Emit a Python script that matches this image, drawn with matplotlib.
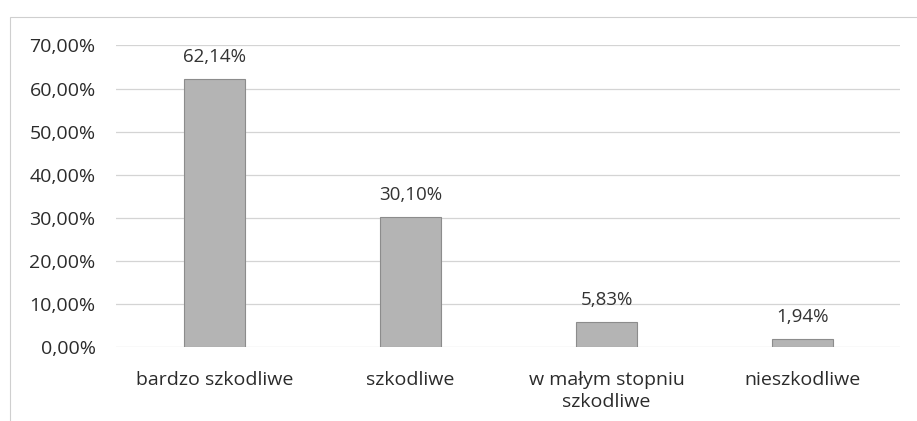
import matplotlib.pyplot as plt
from matplotlib.patches import Rectangle
from matplotlib.ticker import FuncFormatter

plt.rcParams.update({
    "font.family": ["Open Sans", "DejaVu Sans"],
    "font.size": 14,
})

# data
categories = ["bardzo szkodliwe", "szkodliwe", "w małym stopniu\nszkodliwe", "nieszkodliwe"]
values = [62.14, 30.10, 5.83, 1.94]
y_ticks = [0, 10, 20, 30, 40, 50, 60, 70]


def pl_pct(v, pos=None):
    return f"{v:.2f}".replace(".", ",") + "%"


fig = plt.figure(figsize=(9.17, 4.21), dpi=100)
ax = fig.add_axes([0.127, 0.176, 0.855, 0.716])

x = range(len(categories))
bars = ax.bar(x, values, width=0.31, color="#b4b4b4", edgecolor="#8c8c8c", linewidth=0.8, zorder=3)

for xi, v in zip(x, values):
    ax.text(xi, v + 3.0, pl_pct(v), ha="center", va="bottom", fontsize=13.5, color="#333333")

ax.set_xlim(-0.5, len(categories) - 0.5)
ax.set_ylim(0, 70)
ax.set_yticks(y_ticks)
ax.yaxis.set_major_formatter(FuncFormatter(pl_pct))
ax.set_xticks(list(x))
ax.set_xticklabels(categories, fontsize=14, color="#2b2b2b", linespacing=1.35)
ax.tick_params(axis="both", length=0, colors="#2b2b2b")
ax.tick_params(axis="y", labelsize=14, pad=15)
ax.tick_params(axis="x", pad=17)

ax.grid(axis="y", color="#d4d4d4", linewidth=0.9, zorder=0)
for s in ax.spines.values():
    s.set_visible(False)

# faint chart frame
fig.patches.append(Rectangle((0.011, -0.05), 1.2, 1.01, transform=fig.transFigure,
                             fill=False, edgecolor="#cfcfcf", linewidth=0.8))

plt.savefig("out.png", dpi=100)
plt.close()
